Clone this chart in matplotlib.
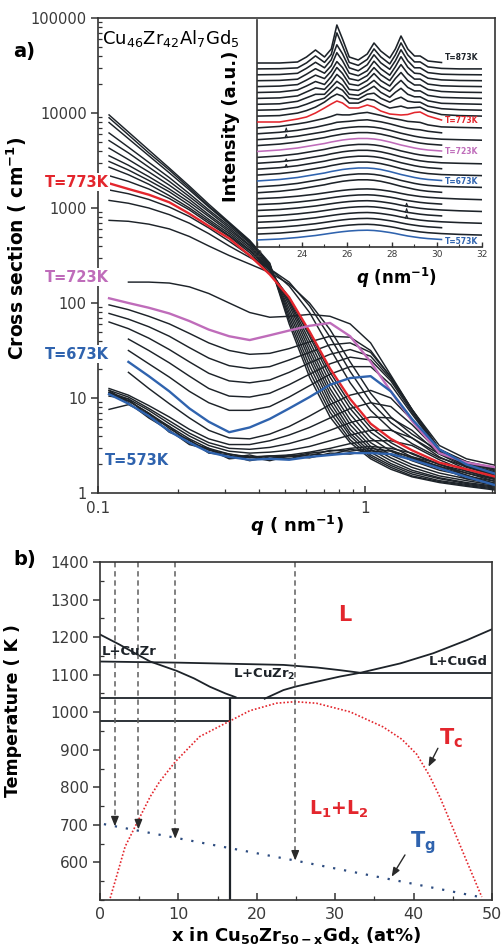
"""SAXS/WAXS of Cu46Zr42Al7Gd5 (a) and the Cu50Zr50-xGdx phase diagram (b).

Static PNG via matplotlib (Agg backend), 501x952 px.
"""

import numpy as np
import matplotlib
matplotlib.use("Agg")  # no GUI

import matplotlib.pyplot as plt
from matplotlib import ticker

NA = np.nan

# ---------------------------------------------------------------------------
# Data — (a) SAXS: log10 of the cross section read at fixed q (nm^-1)
# ---------------------------------------------------------------------------

Q_SAXS = [0.11, 0.13, 0.155, 0.185, 0.22, 0.26, 0.31, 0.37, 0.44, 0.52,
          0.62, 0.74, 0.88, 1.05, 1.25, 1.5, 1.9, 2.4, 3.1]

T_SAXS = [873, 863, 853, 843, 833, 823, 813, 803, 793, 783, 773,
          763, 753, 743, 733, 723, 715, 708, 700, 693, 683, 673,
          663, 653, 643, 633, 623, 613, 603, 593, 583, 573]

LOGI_SAXS = [
    [3.98, 3.80, 3.61, 3.42, 3.23, 3.04, 2.85, 2.66, 2.42, 1.78, 1.22, 0.80, 0.53, 0.36, 0.25, 0.17, 0.11, 0.07, 0.03],
    [3.95, 3.77, 3.58, 3.40, 3.21, 3.02, 2.84, 2.65, 2.41, 1.82, 1.28, 0.85, 0.56, 0.38, 0.27, 0.18, 0.12, 0.08, 0.04],
    [3.90, 3.73, 3.55, 3.37, 3.19, 3.01, 2.83, 2.64, 2.40, 1.86, 1.34, 0.90, 0.60, 0.40, 0.29, 0.20, 0.13, 0.09, 0.05],
    [3.79, 3.64, 3.48, 3.32, 3.15, 2.98, 2.81, 2.63, 2.39, 1.90, 1.40, 0.95, 0.63, 0.43, 0.31, 0.22, 0.15, 0.10, 0.06],
    [3.71, 3.58, 3.43, 3.28, 3.12, 2.96, 2.79, 2.61, 2.38, 1.94, 1.45, 1.00, 0.67, 0.46, 0.34, 0.24, 0.16, 0.11, 0.07],
    [3.63, 3.51, 3.38, 3.24, 3.09, 2.93, 2.77, 2.60, 2.37, 1.98, 1.50, 1.05, 0.72, 0.49, 0.37, 0.27, 0.18, 0.13, 0.08],
    [3.55, 3.45, 3.33, 3.20, 3.06, 2.91, 2.75, 2.58, 2.36, 2.01, 1.55, 1.10, 0.77, 0.53, 0.40, 0.30, 0.21, 0.15, 0.10],
    [3.49, 3.40, 3.29, 3.17, 3.03, 2.88, 2.73, 2.56, 2.35, 2.03, 1.60, 1.16, 0.83, 0.58, 0.44, 0.34, 0.24, 0.18, 0.12],
    [3.43, 3.35, 3.25, 3.13, 3.00, 2.86, 2.71, 2.55, 2.34, 2.05, 1.65, 1.22, 0.89, 0.64, 0.49, 0.38, 0.28, 0.21, 0.14],
    [3.34, 3.28, 3.20, 3.10, 2.98, 2.84, 2.70, 2.53, 2.32, 2.06, 1.68, 1.27, 0.94, 0.69, 0.53, 0.41, 0.30, 0.23, 0.15],
    [3.26, 3.20, 3.14, 3.06, 2.94, 2.81, 2.68, 2.50, 2.30, 2.06, 1.70, 1.31, 0.99, 0.73, 0.57, 0.45, 0.32, 0.25, 0.17],
    [3.19, 3.15, 3.09, 3.01, 2.91, 2.79, 2.65, 2.50, 2.36, 2.18, 1.90, 1.52, 1.16, 0.87, 0.67, 0.52, 0.37, 0.28, 0.19],
    [3.08, 3.05, 3.00, 2.93, 2.84, 2.73, 2.60, 2.48, 2.36, 2.22, 1.97, 1.64, 1.28, 0.96, 0.74, 0.58, 0.41, 0.31, 0.21],
    [2.87, 2.86, 2.83, 2.78, 2.70, 2.60, 2.50, 2.41, 2.32, 2.20, 2.00, 1.72, 1.38, 1.05, 0.80, 0.62, 0.44, 0.33, 0.23],
    [NA, 2.22, 2.22, 2.21, 2.17, 2.10, 2.00, 1.90, 1.85, 1.86, 1.88, 1.86, 1.78, 1.58, 1.24, 0.88, 0.50, 0.36, 0.29],
    [2.05, 2.00, 1.95, 1.89, 1.81, 1.72, 1.65, 1.61, 1.66, 1.71, 1.76, 1.79, 1.65, 1.38, 1.07, 0.76, 0.42, 0.32, 0.27],
    [1.98, 1.93, 1.86, 1.78, 1.68, 1.58, 1.50, 1.46, 1.47, 1.52, 1.59, 1.65, 1.64, 1.50, 1.22, 0.88, 0.46, 0.33, 0.26],
    [1.89, 1.83, 1.75, 1.65, 1.53, 1.42, 1.34, 1.31, 1.33, 1.40, 1.48, 1.56, 1.58, 1.48, 1.22, 0.88, 0.46, 0.32, 0.25],
    [1.80, 1.73, 1.63, 1.51, 1.38, 1.26, 1.18, 1.16, 1.19, 1.27, 1.37, 1.46, 1.51, 1.44, 1.20, 0.87, 0.46, 0.31, 0.24],
    [NA, 1.62, 1.50, 1.37, 1.23, 1.10, 1.02, 1.01, 1.05, 1.14, 1.25, 1.36, 1.43, 1.40, 1.18, 0.85, 0.45, 0.30, 0.22],
    [NA, 1.50, 1.36, 1.22, 1.07, 0.95, 0.87, 0.87, 0.91, 1.01, 1.13, 1.25, 1.33, 1.33, 1.14, 0.83, 0.45, 0.30, 0.21],
    [NA, 1.38, 1.23, 1.07, 0.89, 0.75, 0.64, 0.69, 0.78, 0.89, 1.01, 1.14, 1.21, 1.23, 1.07, 0.78, 0.46, 0.30, 0.20],
    [NA, 1.27, 1.10, 0.94, 0.79, 0.66, 0.58, 0.57, 0.62, 0.70, 0.81, 0.93, 1.03, 1.08, 1.00, 0.77, 0.45, 0.29, 0.20],
    [1.10, 1.03, 0.92, 0.80, 0.67, 0.57, 0.51, 0.51, 0.55, 0.61, 0.69, 0.79, 0.89, 0.95, 0.91, 0.72, 0.43, 0.28, 0.19],
    [1.08, 1.01, 0.89, 0.76, 0.63, 0.53, 0.47, 0.46, 0.48, 0.52, 0.58, 0.66, 0.74, 0.80, 0.79, 0.66, 0.41, 0.27, 0.18],
    [1.06, 0.99, 0.87, 0.73, 0.60, 0.50, 0.44, 0.42, 0.43, 0.45, 0.49, 0.55, 0.61, 0.66, 0.66, 0.58, 0.38, 0.25, 0.16],
    [1.05, 0.97, 0.84, 0.70, 0.57, 0.47, 0.41, 0.38, 0.39, 0.40, 0.43, 0.47, 0.52, 0.55, 0.55, 0.50, 0.35, 0.23, 0.14],
    [1.06, 0.97, 0.84, 0.68, 0.55, 0.45, 0.41, 0.37, 0.39, 0.38, 0.42, 0.44, 0.47, 0.49, 0.47, 0.42, 0.30, 0.21, 0.12],
    [1.02, 0.99, 0.80, 0.70, 0.52, 0.47, 0.37, 0.40, 0.35, 0.40, 0.39, 0.45, 0.44, 0.47, 0.44, 0.38, 0.31, 0.18, 0.10],
    [0.88, 0.93, 0.83, 0.64, 0.56, 0.42, 0.40, 0.34, 0.38, 0.36, 0.41, 0.40, 0.46, 0.43, 0.45, 0.37, 0.27, 0.19, 0.08],
    [1.08, 0.95, 0.79, 0.66, 0.51, 0.46, 0.36, 0.38, 0.34, 0.39, 0.37, 0.42, 0.41, 0.45, 0.41, 0.36, 0.28, 0.15, 0.09],
    [1.04, 0.94, 0.81, 0.65, 0.53, 0.43, 0.38, 0.35, 0.36, 0.35, 0.38, 0.40, 0.42, 0.42, 0.41, 0.35, 0.26, 0.17, 0.08],
]

# labels on the left of panel (a): (text, log10 of y, colour key)
ROTULOS_SAXS = [("T=773K", 3.27, "vermelho"), ("T=723K", 2.27, "violeta"),
                ("T=673K", 1.46, "azul")]

# ---------------------------------------------------------------------------
# Data — inset WAXS: height above each curve's baseline (px-like a.u.)
# ---------------------------------------------------------------------------

Q_WAXS = [22, 23, 23.8, 24.2, 24.6, 25.0, 25.3, 25.55, 25.8, 26.1, 26.5, 26.9,
          27.2, 27.5, 27.9, 28.15, 28.4, 28.7, 29.0, 29.25, 29.6, 30.2, 31, 32]

T_WAXS = list(range(573, 874, 10))

WAXS_AMORFO_BAIXO = [0, 1, 2.5, 3.5, 4.5, 5.8, 6.8, 7.6, 8.3, 9, 9.6, 9.8,
                     9.5, 8.8, 7.5, 6.5, 5.3, 4, 3, 2.2, 1.4, 0.5, -0.3, -1]
WAXS_AMORFO_MEDIO = [0, 1.5, 3.5, 5, 6.5, 8, 9.5, 10.5, 11.5, 12.3, 13, 13,
                     12.5, 11.5, 9.5, 8, 6.5, 5, 3.5, 2.5, 1.5, 0.5, 0, -0.5]
WAXS_CRISTAL = {
    753: [0, 1.5, 3.5, 5, 6.5, 8.5, 10, 11.5, 12, 12.5, 13.5, 14, 13, 12, 10, 8.5, 7, 5.5, 4.5, 4, 2.5, 1, 0.5, 0],
    763: [0, 1.5, 4, 5.5, 7.5, 9.5, 11.5, 13.5, 13, 13, 14.5, 15.5, 14, 12.5, 10, 9, 8, 6.5, 6, 5.5, 3, 1, 0.5, 0],
    773: [0, 0, 3, 5, 9, 14, 18, 21, 19, 14, 14, 17, 15, 11, 8, 7.5, 7, 7.5, 9.5, 10, 6, 2, 0.5, 0],
    783: [0, 0.5, 3, 5.5, 9, 14, 19, 22, 20, 13, 13, 17, 16, 12, 8, 9, 10, 8, 8.5, 9, 5, 1.5, 0.5, 0],
    793: [0, 0.5, 3, 6, 9.5, 12, 18, 23, 20, 12, 11, 16, 17, 12, 8, 11, 13, 9, 8, 8, 4, 1.5, 0.5, 0],
    803: [0, 0.5, 3, 6.5, 10, 10, 17, 23, 19, 10, 9, 14, 18, 12, 7, 12, 16, 10, 7.5, 7.5, 3.5, 1, 0.5, 0],
    813: [0, 0.5, 2.5, 6.5, 10.5, 9, 16, 24, 19, 9, 8, 13, 18, 12, 7, 13, 18, 11, 7.5, 7.5, 3, 1, 0.5, 0],
    823: [0, 0.5, 2.5, 6.5, 11, 8, 16, 25, 19, 8.5, 7, 12, 19, 12, 6.5, 14, 20, 12, 7.5, 7.5, 3, 1, 0.3, 0],
    833: [0, 0.5, 2, 6.5, 11.5, 8, 15.5, 25, 19, 8, 6, 11, 19, 12, 6, 14, 22, 13, 7.5, 7.5, 2.5, 0.8, 0.3, 0],
    843: [0, 0.3, 1.5, 6.5, 12, 7.5, 15, 28, 20, 7.5, 5, 10, 19.5, 12, 5.5, 14, 24, 13.5, 7.5, 7, 2.5, 0.8, 0.2, 0],
    853: [0, 0.3, 1.5, 6.5, 12.5, 7, 15, 30, 21, 7, 4, 10, 20, 12, 5.5, 14, 25, 14, 7, 7, 2.2, 0.6, 0.2, 0],
    863: [0, 0.2, 1, 6, 13, 6.5, 14.5, 36, 23, 6.5, 3.5, 9.5, 20, 12, 5, 14, 26, 14, 7, 7, 2, 0.5, 0, 0],
    873: [0, 0, 1, 6, 13, 6, 14, 38, 24, 6, 3, 9, 20, 12, 5, 14, 27, 14, 7, 7, 2, 0.5, 0, 0],
}
# curves whose measured range stops at q = 30.2
WAXS_CURTAS = {573, 593, 613, 633, 653, 673, 693, 713, 723, 733, 753, 773, 873}
# sharp single-pixel spikes: (T, q, height)
WAXS_PICOS = [(603, 28.65, 3), (613, 28.65, 3.5), (623, 28.65, 3),
              (693, 23.3, 2.5), (703, 23.3, 2), (743, 23.3, 3), (753, 23.3, 3.5)]
ROTULOS_WAXS = [(873, "T=873K", "linha", 5), (773, "T=773K", "vermelho", 1),
                (723, "T=723K", "violeta", 0), (673, "T=673K", "azul", 0),
                (573, "T=573K", "azul", -1)]

# ---------------------------------------------------------------------------
# Data — (b) phase diagram, x in at% Gd, T in K
# ---------------------------------------------------------------------------

LIQ_CUZR_X = [0, 2.5, 4.9, 6.4, 9.8, 12, 14, 16, 17.3]
LIQ_CUZR_T = [1207, 1180, 1152, 1135, 1110, 1090, 1068, 1050, 1040]
LIQ_CUZR2_X = [0, 10, 19, 23.4, 27.7, 30.6, 33.2]
LIQ_CUZR2_T = [1135, 1132, 1128, 1126, 1119, 1112, 1105]
LIQ_CUGD_X = [21, 23.4, 24.9, 27.6, 30.6, 33.2, 38.3, 42.5, 46.8, 50]
LIQ_CUGD_T = [1036, 1059, 1068, 1081, 1095, 1105, 1130, 1157, 1192, 1221]
ISO_X0 = [0, 33.2, 0]
ISO_X1 = [50, 50, 16.6]
ISO_T = [1037, 1105, 977]
VERT_X = 16.6
VERT_T = [500, 1037]

TC_X = [1.3, 2.1, 3.2, 4.9, 6.4, 7.6, 9.6, 12.7, 16.6, 19.1, 22.5, 24.9,
        27.6, 31.9, 36.1, 38.5, 40.4, 42.0, 43.4, 44.6, 46.8, 48.7]
TC_T = [505, 562, 642, 713, 775, 815, 868, 935, 977, 1004, 1024, 1028,
        1024, 1001, 961, 928, 888, 832, 772, 712, 602, 508]
TG_X = [0.5, 24.9, 48.7]
TG_T = [702, 605, 507]

SETAS_X = [1.9, 4.9, 9.6, 24.9]
SETAS_T = [696, 688, 663, 605]

# ---------------------------------------------------------------------------
# Visual identity
# ---------------------------------------------------------------------------

PALETA = {
    "linha": "#1d2329",
    "vermelho": "#e3262d",
    "violeta": "#bf6cba",
    "azul": "#2f63ae",
    "eixo": "#333333",
    "texto": "#3a3a3a",
    "tracejado": "#5e5e5e",
    "tg": "#2d4c80",
}
DESTAQUE = {773: "vermelho", 723: "violeta", 673: "azul", 573: "azul"}

plt.rcParams.update({
    "font.family": "DejaVu Sans",
    "font.size": 10.5,
    "axes.linewidth": 1.2,
    "axes.edgecolor": PALETA["eixo"],
    "xtick.color": PALETA["eixo"],
    "ytick.color": PALETA["eixo"],
    "xtick.labelcolor": PALETA["texto"],
    "ytick.labelcolor": PALETA["texto"],
    "mathtext.fontset": "custom",
    "mathtext.it": "DejaVu Sans:italic:bold",
    "mathtext.rm": "DejaVu Sans:bold",
    "mathtext.bf": "DejaVu Sans:bold",
})

W, H = 501, 952


def _caixa(x0, y0, x1, y1):
    """Pixel box (top-left origin) -> figure-fraction rect."""
    return [x0 / W, 1 - y1 / H, (x1 - x0) / W, (y1 - y0) / H]


def _painel_saxs(fig):
    ax = fig.add_axes(_caixa(98, 18, 495, 493))
    q = np.array(Q_SAXS)
    for T, logi in zip(T_SAXS, LOGI_SAXS):
        chave = DESTAQUE.get(T)
        cor = PALETA[chave] if chave else PALETA["linha"]
        ax.plot(q, 10 ** np.array(logi), color=cor,
                lw=1.7 if chave else 1.05, zorder=3 if chave else 2,
                solid_joinstyle="round")
    ax.set_xscale("log")
    ax.set_yscale("log")
    ax.set_xlim(0.1, 3.07)
    ax.set_ylim(1, 1e5)

    ax.yaxis.set_major_locator(ticker.LogLocator(base=10, numticks=10))
    ax.yaxis.set_major_formatter(ticker.FuncFormatter(lambda v, _: f"{v:g}"))
    ax.yaxis.set_minor_locator(ticker.LogLocator(base=10, subs=np.arange(2, 10), numticks=20))
    ax.yaxis.set_minor_formatter(ticker.NullFormatter())
    ax.set_xticks([0.1, 1])
    ax.set_xticklabels(["0.1", "1"])
    ax.xaxis.set_minor_locator(ticker.LogLocator(base=10, subs=np.arange(2, 10), numticks=20))
    ax.xaxis.set_minor_formatter(ticker.NullFormatter())
    ax.tick_params(axis="y", which="major", direction="out", length=5, width=1.1,
                   labelsize=10.5, pad=3)
    ax.tick_params(axis="y", which="minor", direction="in", length=3, width=0.9)
    ax.tick_params(axis="x", which="major", direction="in", length=5, width=1.1,
                   labelsize=11, pad=6)
    ax.tick_params(axis="x", which="minor", direction="in", length=3, width=0.9)

    ax.set_ylabel(r"Cross section ( cm$\mathregular{^{-1}}$)", fontsize=13.5,
                  fontweight="bold")
    ax.yaxis.set_label_coords(-0.175, 0.516)
    ax.set_xlabel(r"$q$ ( nm$\mathregular{^{-1}}$)", fontsize=13, fontweight="bold",
                  labelpad=-2)

    ax.text(0.01, 0.979, r"Cu$\mathregular{_{46}}$Zr$\mathregular{_{42}}$"
            r"Al$\mathregular{_{7}}$Gd$\mathregular{_{5}}$",
            transform=ax.transAxes, ha="left", va="top", fontsize=13)

    for texto, logy, chave in ROTULOS_SAXS:
        ax.text(0.1095, 10 ** logy, texto, ha="right", va="center", fontsize=10.5,
                fontweight="bold", color=PALETA[chave], clip_on=False, zorder=5,
                bbox=dict(boxstyle="square,pad=0.1", fc="white", ec="none"))
    ax.text(0.1062, 10 ** 0.34, "T=573K", ha="left", va="center", fontsize=10.5,
            fontweight="bold", color=PALETA["azul"], zorder=5)
    return ax


def _inset_waxs(fig):
    axi = fig.add_axes(_caixa(257, 20, 482, 247))
    axi.set_facecolor("white")
    q = np.array(Q_WAXS)
    curvas = {}
    for k, T in enumerate(T_WAXS):
        base = 7 + 5.9 * k
        perfil = WAXS_CRISTAL.get(T)
        if perfil is None:
            perfil = WAXS_AMORFO_BAIXO if T <= 643 else WAXS_AMORFO_MEDIO
        y = base + np.array(perfil, dtype=float)
        curvas[T] = (base, y)
        fim = q <= 30.2 if T in WAXS_CURTAS else q <= 32
        chave = DESTAQUE.get(T)
        cor = PALETA[chave] if chave else PALETA["linha"]
        axi.plot(q[fim], y[fim], color=cor, lw=1.15, zorder=3 if chave else 2,
                 solid_joinstyle="round")

    for T, qp, h in WAXS_PICOS:
        base, y = curvas[T]
        y0 = np.interp(qp, q, y)
        axi.plot([qp - 0.05, qp, qp + 0.05], [y0, y0 + h, y0], color=PALETA["linha"], lw=0.8)

    for T, texto, chave, dy in ROTULOS_WAXS:
        axi.text(30.35, curvas[T][0] + dy, texto, fontsize=5.5, fontweight="bold",
                 color=PALETA[chave], ha="left", va="center")

    axi.set_xlim(22, 32)
    axi.set_ylim(0, 227)
    axi.spines["top"].set_visible(False)
    axi.spines["right"].set_visible(False)
    axi.set_yticks([])
    axi.set_xticks(range(22, 33, 2))
    axi.xaxis.set_minor_locator(ticker.MultipleLocator(1))
    axi.tick_params(axis="x", which="major", direction="in", length=3.5, width=1,
                    labelsize=6.5, pad=2)
    axi.tick_params(axis="x", which="minor", direction="in", length=2, width=0.8)
    axi.set_ylabel("Intensity (a.u.)", fontsize=13, fontweight="bold")
    axi.yaxis.set_label_coords(-0.075, 0.53)
    axi.set_xlabel(r"$q$ (nm$\mathregular{^{-1}}$)", fontsize=12, fontweight="bold")
    axi.xaxis.set_label_coords(0.62, -0.085)
    return axi


def _painel_fases(fig):
    ax = fig.add_axes(_caixa(100, 562, 492, 900))
    preto = PALETA["linha"]
    ax.plot(LIQ_CUZR_X, LIQ_CUZR_T, color=preto, lw=1.3)
    ax.plot(LIQ_CUZR2_X, LIQ_CUZR2_T, color=preto, lw=1.3)
    ax.plot(LIQ_CUGD_X, LIQ_CUGD_T, color=preto, lw=1.3)
    ax.hlines(ISO_T, ISO_X0, ISO_X1, color=preto, lw=1.3)
    ax.vlines(VERT_X, VERT_T[0], VERT_T[1], color=preto, lw=1.6)

    ax.plot(TC_X, TC_T, color=PALETA["vermelho"], lw=1.2, ls=(0, (1, 1.2)))
    ax.plot(TG_X, TG_T, color=PALETA["tg"], lw=1.6, ls=(0, (1, 4)))

    topo = 1400
    for x, t_fim in zip(SETAS_X, SETAS_T):
        ax.plot([x, x], [topo, t_fim + 16], color=PALETA["tracejado"], lw=1.1,
                ls=(0, (3.5, 2.5)))
        ax.annotate("", xy=(x, t_fim), xytext=(x, t_fim + 18),
                    arrowprops=dict(arrowstyle="-|>,head_length=0.55,head_width=0.22",
                                    color="#2a2a2a", lw=1.0, shrinkA=0, shrinkB=0))

    vermelho = PALETA["vermelho"]
    ax.text(31.2, 1258, "L", color=vermelho, fontsize=15, fontweight="bold",
            ha="center", va="center")
    ax.text(0.25, 1161, "L+CuZr", fontsize=9.5, fontweight="bold", ha="left",
            va="center", color=preto)
    ax.text(17.0, 1100, r"L+CuZr$\mathregular{_2}$", fontsize=9.5, fontweight="bold",
            ha="left", va="center", color=preto)
    ax.text(49.4, 1134, "L+CuGd", fontsize=9.5, fontweight="bold", ha="right",
            va="center", color=preto)
    ax.text(30.5, 742, r"L$\mathregular{_1}$+L$\mathregular{_2}$", color=vermelho,
            fontsize=13.5, fontweight="bold", ha="center", va="center")
    ax.text(44.8, 930, r"T$\mathregular{_c}$", color=vermelho, fontsize=15,
            fontweight="bold", ha="center", va="center")
    ax.text(41.2, 652, r"T$\mathregular{_g}$", color=PALETA["azul"], fontsize=15,
            fontweight="bold", ha="center", va="center")
    ax.annotate("", xy=(41.9, 855), xytext=(43.1, 904),
                arrowprops=dict(arrowstyle="-|>,head_length=0.5,head_width=0.2",
                                color="#2a2a2a", lw=1.0, shrinkA=0, shrinkB=0))
    ax.annotate("", xy=(37.2, 562), xytext=(38.9, 620),
                arrowprops=dict(arrowstyle="-|>,head_length=0.5,head_width=0.2",
                                color="#2a2a2a", lw=1.0, shrinkA=0, shrinkB=0))

    ax.set_xlim(0, 50)
    ax.set_ylim(500, topo)
    ax.set_xticks(range(0, 51, 10))
    ax.xaxis.set_minor_locator(ticker.MultipleLocator(5))
    ax.set_yticks(range(600, 1401, 100))
    ax.yaxis.set_minor_locator(ticker.MultipleLocator(50))
    ax.tick_params(axis="x", which="major", direction="in", length=5, width=1.1,
                   labelsize=11.5, pad=5)
    ax.tick_params(axis="x", which="minor", direction="in", length=3, width=0.9)
    ax.tick_params(axis="y", which="major", direction="out", length=5, width=1.1,
                   labelsize=11, pad=3)
    ax.tick_params(axis="y", which="minor", direction="in", length=3, width=0.9)

    ax.set_ylabel("Temperature ( K )", fontsize=12.5, fontweight="bold")
    ax.yaxis.set_label_coords(-0.2, 0.56)
    ax.set_xlabel(r"x in Cu$\mathregular{_{50}}$Zr$\mathregular{_{50-x}}$"
                  r"Gd$\mathregular{_x}$ (at%)", fontsize=13, fontweight="bold",
                  labelpad=2)
    return ax


fig = plt.figure(figsize=(W / 100, H / 100), dpi=100)
fig.patch.set_facecolor("white")
_painel_saxs(fig)
_inset_waxs(fig)
_painel_fases(fig)
fig.text(13 / W, 1 - 52 / H, "a)", fontsize=14, fontweight="bold", va="center")
fig.text(13 / W, 1 - 560 / H, "b)", fontsize=14, fontweight="bold", va="center")
fig.savefig("out.png", dpi=100, facecolor="white")
plt.close(fig)
